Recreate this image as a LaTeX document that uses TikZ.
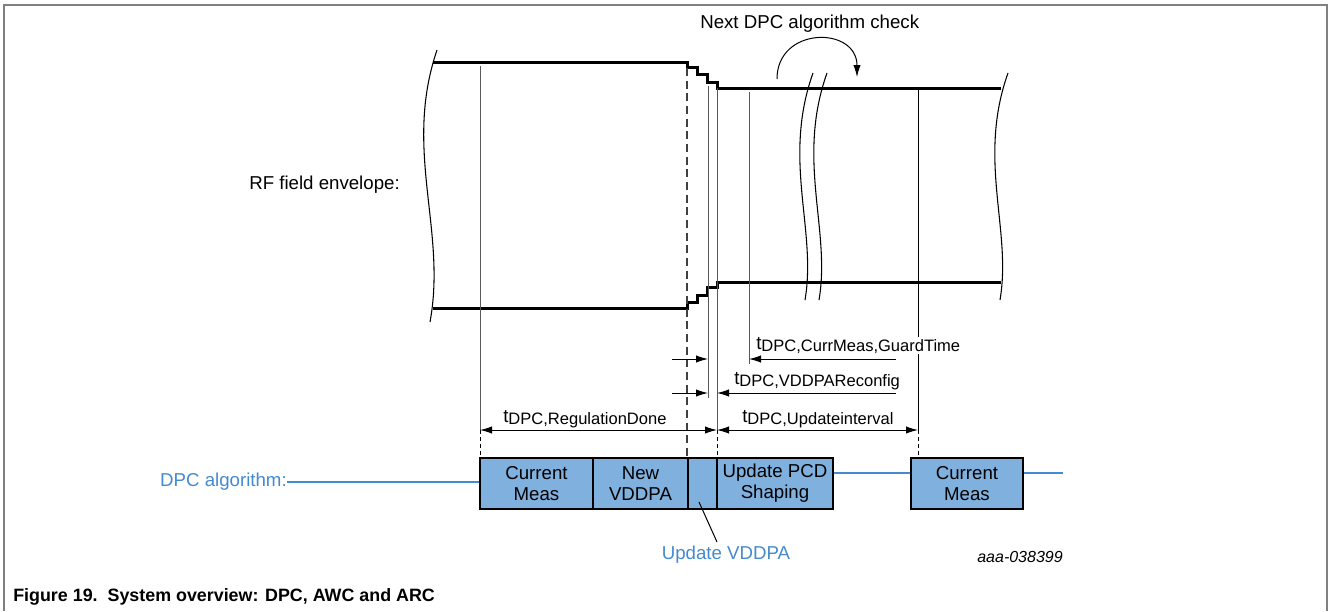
\documentclass[tikz,border=0pt]{standalone}
\usepackage{fontspec}
\setmainfont{Liberation Sans}
\usetikzlibrary{arrows.meta,calc}
\definecolor{boxfill}{RGB}{128,176,222}
\definecolor{dpcblue}{RGB}{68,138,208}
\newcommand{\tsub}[1]{t\raisebox{-2.2pt}{\fontsize{12.4}{14}\selectfont #1}}
\begin{document}
\begin{tikzpicture}[x=0.75pt,y=-0.75pt,
  font=\fontsize{14}{16}\selectfont,
  env/.style={line width=2.25pt, line join=miter},
  thinv/.style={line width=0.75pt, draw=black!65},
  blackv/.style={line width=0.75pt, draw=black},
  fdash/.style={line width=0.75pt, dash pattern=on 3pt off 2.2pt},
  envdash/.style={line width=1.1pt, draw=black!75, dash pattern=on 6pt off 3.5pt},
  wavy/.style={line width=0.8pt},
  dimarr/.style={line width=0.75pt, -{Latex[length=9pt,width=5.5pt]}},
  dimboth/.style={line width=0.75pt, {Latex[length=9pt,width=5.5pt]}-{Latex[length=9pt,width=5.5pt]}},
  lbl/.style={inner sep=0pt},
  algbox/.style={draw, line width=1pt, fill=boxfill, minimum height=38.25pt, inner sep=0pt, align=center, font=\fontsize{14}{15.75}\selectfont},
  bluel/.style={draw=dpcblue, line width=1.2pt}
]
\useasboundingbox (0,0) rectangle (1328,611);
% frame
\draw[gray, line width=1pt] (4,611) -- (4,5) -- (1327,5) -- (1327,611);

% envelope
\draw[env] (433,62) -- (687,62) -- (687,67) -- (697,67) -- (697,74) -- (707,74) -- (707,82) -- (717,82) -- (717,88) -- (1001,88);
\draw[env] (433,308) -- (687,308) -- (687,302) -- (697,302) -- (697,295) -- (707,295) -- (707,287) -- (717,287) -- (717,282) -- (1001,282);
\draw[wavy] (437,50) .. controls (403,150) and (447,230) .. (430,322);
\draw[wavy] (813,73) .. controls (782,160) and (817,230) .. (805,300);
\draw[wavy] (827,73) .. controls (796,160) and (831,230) .. (819,300);
\draw[wavy] (1008,73) .. controls (977,160) and (1012,230) .. (1000,300);

% labels
\node[lbl, anchor=east] (rf) at (400,185) {RF field envelope:};
\node[lbl, anchor=west] (next) at (700,24) {Next DPC algorithm check};
\draw[line width=0.75pt, -{Latex[length=9pt,width=5.5pt]}] (777,79) .. controls (777,26) and (857,26) .. (857,77);

% vertical markers
\coordinate (v1t) at (480,66);  \coordinate (v1m) at (480,430); \coordinate (v1b) at (480,458);
\coordinate (v2t) at (687,68);  \coordinate (v2b) at (687,458);
\coordinate (v3t) at (708,86);  \coordinate (v3b) at (708,398);
\coordinate (v4t) at (717,88);  \coordinate (v4m) at (717,430); \coordinate (v4b) at (717,458);
\coordinate (v5t) at (749,92);  \coordinate (v5b) at (749,364);
\coordinate (v6t) at (918,89);  \coordinate (v6m) at (918,430); \coordinate (v6b) at (918,458);
\draw[thinv] (v1t) -- (v1m); \draw[fdash] (v1m) -- (v1b);
\draw[envdash] (v2t) -- (v2b);
\draw[thinv] (v3t) -- (v3b);
\draw[thinv] (v4t) -- (v4m); \draw[fdash] (v4m) -- (v4b);
\draw[thinv] (v5t) -- (v5b);
\draw[blackv] (v6t) -- (v6m); \draw[fdash] (v6m) -- (v6b);

% dimension arrows
\coordinate (a1s) at (672,359); \coordinate (a1e) at (708,359);
\coordinate (a2s) at (896,359); \coordinate (a2e) at (749,359);
\coordinate (a3s) at (672,393); \coordinate (a3e) at (708,393);
\coordinate (a4s) at (896,393); \coordinate (a4e) at (717,393);
\draw[dimarr] (a1s) -- (a1e);
\draw[dimarr] (a2s) -- (a2e);
\draw[dimarr] (a3s) -- (a3e);
\draw[dimarr] (a4s) -- (a4e);
\draw[dimboth] (v1m) -- (v4m);
\draw[dimboth] (v4m) -- (v6m);

\node[lbl, anchor=base west, fill=white] (tg) at (756,349) {\tsub{DPC,CurrMeas,GuardTime}};
\node[lbl, anchor=base west] (tv) at (734,384) {\tsub{DPC,VDDPAReconfig}};
\node[lbl, anchor=base west] (tr) at (503,422) {\tsub{DPC,RegulationDone}};
\node[lbl, anchor=base west] (tu) at (742,422) {\tsub{DPC,Updateinterval}};

% DPC algorithm row
\node[algbox, minimum width=84.75pt] (b1) at (536.5,483.5) {Current\\Meas};
\node[algbox, minimum width=71.25pt] (b2) at (640.5,483.5) {New\\VDDPA};
\node[algbox, minimum width=21.75pt] (b3) at (702.5,483.5) {};
\node[algbox, minimum width=87pt] (b4) at (775,483.5) {Update PCD\\Shaping};
\node[algbox, minimum width=84pt] (b5) at (967,483.5) {Current\\Meas};

\node[lbl, anchor=east, text=dpcblue] (dpc) at (287,482) {DPC algorithm:};
\draw[bluel] (dpc.east) -- (dpc.east -| b1.west);
\draw[bluel] ($(b4.east)+(0,-10.5)$) -- ($(b5.west)+(0,-10.5)$);
\coordinate (bend) at (1063,473);
\draw[bluel] ($(b5.east)+(0,-10.5)$) -- (bend);

\node[lbl, text=dpcblue] (uv) at (726,555) {Update VDDPA};
\coordinate (uvp) at (699,502);
\draw[line width=0.75pt] (uvp) -- (717,542);

\node[lbl, anchor=east, font=\fontsize{12}{14}\selectfont\itshape] (id) at (1063,557) {aaa-038399};

\node[lbl, anchor=west, font=\fontsize{13.4}{15}\selectfont\bfseries] (cap) at (13,597) {Figure 19.\ \ System overview: DPC, AWC and ARC};
\end{tikzpicture}
\end{document}
